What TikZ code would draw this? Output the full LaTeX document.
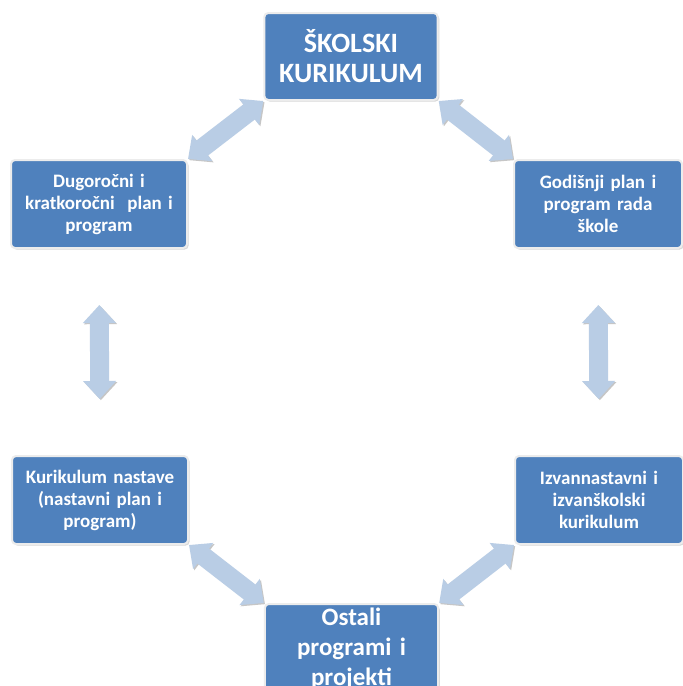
\documentclass[tikz,border=0pt]{standalone}
\usepackage{fontspec}
\setmainfont{Carlito}
\usetikzlibrary{arrows.meta}
\usetikzlibrary{shadows}
\definecolor{boxblue}{RGB}{79,129,189}
\definecolor{arrowblue}{RGB}{185,205,229}
\tikzset{
  kbox/.style={rectangle, rounded corners=2pt, fill=boxblue, draw=white!85!gray, line width=1pt,
    text=white, align=center, font=\bfseries\fontsize{9.5}{11}\selectfont,
    drop shadow={shadow xshift=0.8pt, shadow yshift=-0.8pt, fill=gray!50, opacity=0.6}},
  smallbox/.style={kbox, minimum width=88pt, minimum height=44pt, text width=82pt, inner xsep=1pt},
  bigbox/.style={kbox, minimum width=86pt, minimum height=43.5pt, text width=80pt,
    font=\bfseries\fontsize{14}{15}\selectfont},
  blockarrow/.style={line width=9.5pt, draw=arrowblue,
    {Triangle[length=9pt,width=16pt]}-{Triangle[length=9pt,width=16pt]},
    preaction={draw=gray!45, transform canvas={shift={(0.6pt,-0.6pt)}}}}
}
\begin{document}
\begin{tikzpicture}[x=0.5pt,y=-0.5pt]
\useasboundingbox (0,0) rectangle (683,686);
\fill[white] (0,0) rectangle (683,686);
\clip (0,0) rectangle (683,686);

\node[bigbox] (skol) at (351,56.5) {ŠKOLSKI\\KURIKULUM};
\node[smallbox] (dug) at (99,204) {Dugoročni i\\kratkoročni~ plan i\\program};
\node[smallbox, minimum width=84pt] (god) at (598,204) {Godišnji plan i\\program rada\\škole};
\node[smallbox] (kur) at (100,500) {Kurikulum nastave\\(nastavni plan i\\program)};
\node[smallbox, minimum width=83pt] (izv) at (599,500) {Izvannastavni i\\izvanškolski\\kurikulum};
\node[kbox, anchor=north, minimum width=86.5pt, inner ysep=2pt, text width=80pt,
  font=\bfseries\fontsize{12.5}{15}\selectfont] (ost) at (351.5,603) {Ostali\\programi i\\projekti};

% connectors
\draw[blockarrow] (dug.north east) -- (skol.south west);
\draw[blockarrow] (skol.south east) -- (god.north west);
\draw[blockarrow, shorten <=28pt, shorten >=28pt] (dug) -- (kur);
\draw[blockarrow, shorten <=28pt, shorten >=28pt] (god) -- (izv);
\draw[blockarrow] (kur.south east) -- (ost.north west);
\draw[blockarrow] (izv.south west) -- (ost.north east);

\end{tikzpicture}
\end{document}
